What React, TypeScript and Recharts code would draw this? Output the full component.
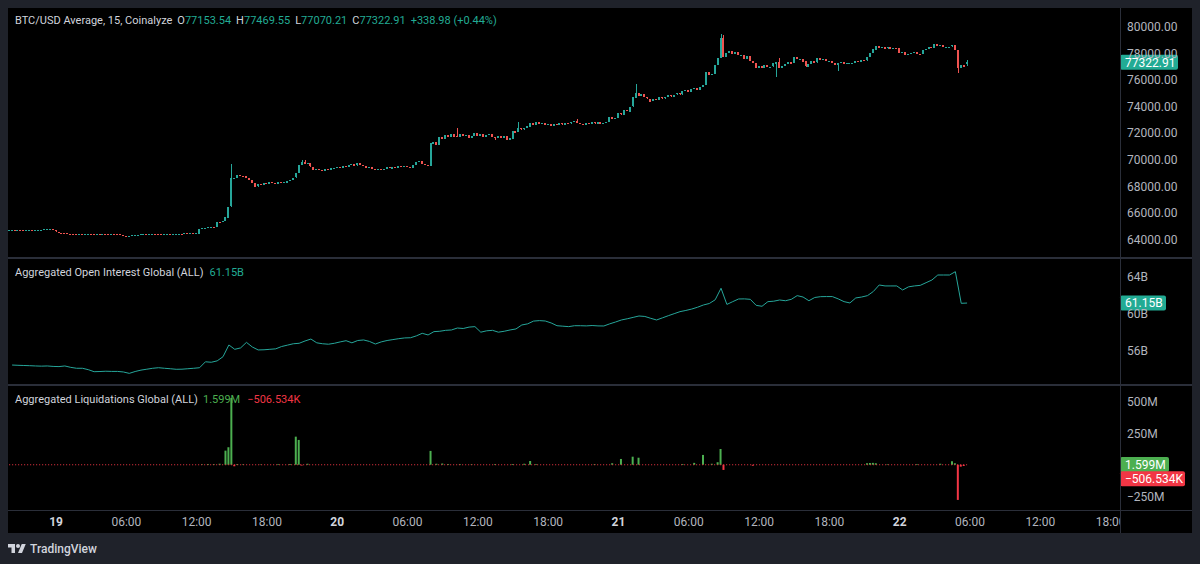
import React from "react";
import { ComposedChart, Bar, Line, XAxis, YAxis, ReferenceLine, Cell } from "recharts";

const FONT = "Roboto, 'Noto Sans', sans-serif";
const OUTER = "#1f222a";
const SEP = "#2a2e39";
const UP = "#26a69a";
const DOWN = "#ef5350";
const TEAL = "#22ab94";
const LIQ_UP = "#4caf50";
const LIQ_DOWN = "#f23645";
const AXIS_TEXT = "#b2b5be";

// 15m closes, 18th 20:00 -> 22nd 05:45 (one row = 4h = 16 candles)
const closes = [
  64690, 64700, 64680, 64710, 64700, 64690, 64700, 64720, 64710, 64730, 64740, 64750, 64760, 64790, 64810, 64700,
  64600, 64520, 64480, 64470, 64450, 64440, 64430, 64420, 64430, 64410, 64420, 64430, 64420, 64410, 64430, 64420,
  64420, 64410, 64400, 64420, 64410, 64380, 64350, 64300, 64200, 64260, 64330, 64360, 64370, 64380, 64390, 64380,
  64400, 64450, 64430, 64420, 64410, 64430, 64440, 64420, 64430, 64440, 64450, 64430, 64460, 64440, 64470, 64450,
  64460, 64800, 64880, 64900, 64920, 64950, 64930, 65340, 65300, 65400, 65670, 66470, 68600, 68650, 68850, 68800,
  68780, 68600, 68470, 68250, 67970, 68150, 68120, 68250, 68200, 68330, 68270, 68200, 68350, 68280, 68300, 68420,
  68470, 68650, 68980, 69600, 69800, 69650, 69720, 69470, 69220, 69330, 69250, 69180, 69300, 69230, 69350, 69400,
  69470, 69380, 69520, 69450, 69600, 69700, 69550, 69730, 69600, 69520, 69400, 69450, 69300, 69200, 69280, 69230,
  69300, 69420, 69350, 69480, 69400, 69520, 69450, 69560, 69470, 69400, 69600, 69800, 69900, 69700, 69600, 69520,
  71230, 71350, 71100, 71680, 71550, 71860, 71700, 71950, 71750, 71680, 71900, 71750, 71860, 71650, 71780, 72030,
  71800, 71950, 71730, 71850, 71930, 71700, 71600, 71780, 71650, 71800, 71480, 71600, 72180, 72050, 72360, 72250,
  72360, 72500, 72780, 72650, 72850, 72700, 72780, 72600, 72700, 72560, 72680, 72600, 72750, 72640, 72780, 72700,
  72800, 72900, 72760, 72700, 72620, 72760, 72680, 72800, 72700, 72820, 72700, 72780, 72860, 73230, 73050, 73150,
  73490, 73380, 73740, 73650, 73990, 74690, 75040, 74800, 74950, 74700, 74600, 74400, 74550, 74480, 74690, 74600,
  74700, 74850, 74750, 74900, 75000, 74900, 75150, 75240, 75100, 75300, 75370, 75250, 75450, 75620, 76620, 76380,
  76420, 77120, 77620, 79130, 77700, 78000, 78170, 77950, 78100, 77850, 77870, 77600, 77800, 77400, 77250, 76870,
  77050, 76870, 77100, 76950, 76990, 77250, 77380, 76900, 77050, 77200, 77370, 77250, 77700, 77550, 77600, 77400,
  76990, 77200, 77420, 77300, 77620, 77500, 77550, 77400, 77420, 77250, 77100, 77250, 77350, 77200, 77250, 77300,
  77300, 77420, 77350, 77500, 77450, 77700, 78000, 78300, 78570, 78400, 78500, 78350, 78450, 78300, 78400, 78370,
  78000, 78100, 77870, 77950, 78050, 78120, 77950, 77920, 78250, 78350, 78500, 78400, 78670, 78550, 78600, 78450,
  78450, 78500, 78600, 78250, 76870, 77100, 76983.93, 77322.91,
];
const lastOpen = 77153.54;

// visible wicks: [candle index, high, low] (0 = none)
const wicks = [
  [76, 69680, 0], [100, 69980, 0], [101, 69950, 0], [153, 72360, 0], [166, 0, 71450],
  [174, 72860, 0], [194, 73040, 0], [214, 75690, 0], [243, 79430, 0], [244, 79400, 0],
  [262, 0, 76240], [263, 77670, 0], [283, 0, 76670], [324, 0, 76500], [327, 77469.55, 77070.21],
];

// aggregated open interest, 30m samples (billions)
const oiValues = [
  54.45, 54.42, 54.4, 54.38, 54.35, 54.33, 54.35, 54.3, 54.28, 54.35, 54.2, 54.1,
  54.1, 53.95, 53.73, 53.75, 53.78, 53.76, 53.76, 53.7, 53.55, 53.75, 53.9, 54.0,
  54.1, 54.16, 54.1, 54.05, 53.99, 54.0, 54.05, 54.1, 54.16, 54.8, 54.75, 54.9,
  55.35, 56.62, 56.15, 56.3, 56.9, 56.4, 56.08, 56.1, 56.15, 56.2, 56.45, 56.6,
  56.75, 56.8, 57.05, 57.26, 56.85, 56.75, 56.7, 56.8, 56.95, 57.08, 56.85, 57.1,
  57.16, 57.0, 56.72, 56.95, 57.1, 57.2, 57.3, 57.38, 57.4, 57.6, 57.88, 57.7,
  58.06, 58.1, 58.2, 58.24, 58.45, 58.4, 58.55, 58.6, 58.0, 58.15, 58.2, 58.0,
  58.1, 58.24, 58.35, 58.78, 58.9, 59.2, 59.25, 59.21, 59.0, 58.7, 58.65, 58.6,
  58.7, 58.7, 58.68, 58.72, 58.68, 58.67, 58.9, 59.1, 59.32, 59.45, 59.6, 59.75,
  59.7, 59.5, 59.32, 59.55, 59.78, 60.0, 60.22, 60.35, 60.5, 60.7, 60.94, 61.1,
  61.5, 62.75, 61.0, 61.3, 61.59, 61.6, 61.55, 60.9, 60.8, 61.3, 61.35, 61.48,
  61.4, 61.55, 61.95, 61.8, 61.4, 61.75, 61.84, 61.85, 61.85, 61.6, 61.3, 61.16,
  61.7, 61.8, 61.95, 62.4, 63.1, 63.0, 63.0, 63.0, 62.56, 62.9, 63.0, 63.06,
  63.35, 63.64, 64.18, 64.18, 64.18, 64.54, 61.12, 61.15,
];

// liquidations per 15m candle: [candle index, $M] (longs +, shorts -)
const liqEvents = [
  [66, 4], [68, 6], [70, 5], [72, 8], [74, 112], [75, 139], [76, 530], [77, -12], [78, 6], [80, 4],
  [86, 3], [92, 5], [96, 6], [98, 223], [99, 197], [100, -6], [102, 8],
  [144, 110], [146, 8], [148, 10], [150, 6], [154, 5], [158, 4], [166, 5], [172, 6], [176, 8], [178, 30], [180, 5],
  [200, 5], [206, 12], [209, 46], [213, 64], [215, 56], [230, 6], [234, 15], [237, 78], [240, 8], [242, 20],
  [243, 125], [244, -41], [254, -8],
  [293, 12], [294, 14], [295, 15], [296, 12], [300, 4], [310, 5], [318, 8], [322, 28], [323, 12],
  [324, -279], [325, -15], [326, -10],
];

const priceTicks = [64000, 66000, 68000, 70000, 72000, 74000, 76000, 78000, 80000];
const oiTicks = [56, 60, 64];
const liqTicks = [-250, 250, 500];
const timeTicks = [16, 40, 64, 88, 112, 136, 160, 184, 208, 232, 256, 280, 304, 328, 352, 376];
const timeLabels = ["19", "06:00", "12:00", "18:00", "20", "06:00", "12:00", "18:00", "21", "06:00", "12:00", "18:00", "22", "06:00", "12:00", "18:00"];

const X_DOMAIN = [-0.4, 379.2];
const CHART_W = 1184;
const AXIS_W = 72;
const PLOT_W = CHART_W - AXIS_W;

const candles = closes.map((c, i) => {
  const o = i === closes.length - 1 ? lastOpen : i === 0 ? c : closes[i - 1];
  const w = wicks.find((e) => e[0] === i);
  const h = Math.max(o, c, w && w[1] ? w[1] : 0);
  const l = Math.min(o, c, w && w[2] ? w[2] : Infinity);
  return { i, o, c, h, l, range: [l, h] };
});

const oiData = oiValues.map((v, k) => ({ i: 2 * k + 1, oi: v }));

const liqData = closes.map((_, i) => {
  const e = liqEvents.find((x) => x[0] === i);
  return { i, v: e ? e[1] : 0 };
});

// candle body + wick, snapped to whole pixels so the thin bodies stay crisp
const Candle = (p: any) => {
  const { x, y, width, height, payload } = p;
  const { o, c, h, l } = payload;
  const color = c >= o ? UP : DOWN;
  const top = Math.min(y, y + height);
  const H = Math.abs(height);
  const k = h > l ? H / (h - l) : 0;
  const bodyTop = top + (h - Math.max(o, c)) * k;
  const bodyH = Math.max(1, Math.abs(c - o) * k);
  const bx = Math.round(x);
  const bw = Math.max(2, Math.round(width));
  const cx = bx + bw / 2;
  return (
    <g shapeRendering="crispEdges">
      <line x1={cx} x2={cx} y1={top} y2={top + Math.max(H, 1)} stroke={color} strokeWidth={1} />
      <rect x={bx} y={Math.round(bodyTop)} width={bw} height={Math.max(1, Math.round(bodyH))} fill={color} />
    </g>
  );
};

const tag = (text: string, bg: string, w: number, dy = 0) => (props: any) => {
  const vb = props.viewBox || {};
  const x = (vb.x || 0) + (vb.width || 0);
  const y = (vb.y || 0) + dy;
  return (
    <g>
      <rect x={x} y={y - 7.5} width={w} height={15} rx={2} fill={bg} />
      <text x={x + 5} y={y} dy="0.36em" fill="#ffffff" fontSize={12} fontFamily={FONT}>
        {text}
      </text>
    </g>
  );
};

const TimeTick = (p: any) => {
  const { x, y, payload } = p;
  const idx = timeTicks.indexOf(payload.value);
  const label = timeLabels[idx];
  const isDay = label.indexOf(":") < 0;
  const id = `tclip${idx}`;
  return (
    <g>
      <defs>
        <clipPath id={id}>
          <rect x={0} y={0} width={PLOT_W} height={200} />
        </clipPath>
      </defs>
      <text
        x={x}
        y={y}
        dy={16}
        textAnchor="middle"
        fill={isDay ? "#d1d4dc" : AXIS_TEXT}
        fontWeight={isDay ? 700 : 400}
        fontSize={12}
        fontFamily={FONT}
        clipPath={`url(#${id})`}
      >
        {label}
      </text>
    </g>
  );
};

const axisTick = { fill: AXIS_TEXT, fontSize: 12, fontFamily: FONT };
const noMargin = { top: 0, right: 0, bottom: 0, left: 0 };

const legendBase: React.CSSProperties = {
  position: "absolute",
  left: 15,
  fontSize: 11,
  lineHeight: "16px",
  color: "#d1d4dc",
  whiteSpace: "nowrap",
  fontFamily: FONT,
};

export default function App() {
  return (
    <div style={{ position: "absolute", left: 0, top: 0, width: 1200, height: 564, background: OUTER, fontFamily: FONT }}>
      <div style={{ position: "absolute", left: 8, top: 8, width: CHART_W, height: 525, background: "#000" }} />

      {/* price pane */}
      <div style={{ position: "absolute", left: 8, top: 8 }}>
        <ComposedChart width={CHART_W} height={249} data={candles} margin={noMargin}>
          <XAxis dataKey="i" type="number" domain={X_DOMAIN} allowDataOverflow hide />
          <YAxis
            orientation="right"
            width={AXIS_W}
            domain={[62684, 81406]}
            allowDataOverflow
            ticks={priceTicks}
            interval={0}
            tick={axisTick}
            tickSize={0}
            tickMargin={7}
            axisLine={false}
            tickLine={false}
            tickFormatter={(v: number) => v.toFixed(2)}
          />
          <Bar dataKey="range" shape={<Candle />} barSize={2} isAnimationActive={false} />
          <ReferenceLine y={77322.91} stroke="none" ifOverflow="visible" label={tag("77322.91", "#22ab94", 58)} />
        </ComposedChart>
      </div>
      <div style={{ ...legendBase, top: 13 }}>
        <span style={{ marginRight: 5 }}>BTC/USD Average, 15, Coinalyze</span>
        <span style={{ marginRight: 5 }}>O<span style={{ color: TEAL }}>77153.54</span></span>
        <span style={{ marginRight: 5 }}>H<span style={{ color: TEAL }}>77469.55</span></span>
        <span style={{ marginRight: 5 }}>L<span style={{ color: TEAL }}>77070.21</span></span>
        <span style={{ marginRight: 5 }}>C<span style={{ color: TEAL }}>77322.91</span></span>
        <span style={{ color: TEAL }}>+338.98 (+0.44%)</span>
      </div>
      <div style={{ position: "absolute", left: 8, top: 257, width: CHART_W, height: 2, background: SEP }} />

      {/* open interest pane */}
      <div style={{ position: "absolute", left: 8, top: 259 }}>
        <ComposedChart width={CHART_W} height={125} data={oiData} margin={noMargin}>
          <XAxis dataKey="i" type="number" domain={X_DOMAIN} allowDataOverflow hide />
          <YAxis
            orientation="right"
            width={AXIS_W}
            domain={[52.4, 65.91]}
            allowDataOverflow
            ticks={oiTicks}
            interval={0}
            tick={axisTick}
            tickSize={0}
            tickMargin={7}
            axisLine={false}
            tickLine={false}
            tickFormatter={(v: number) => `${v}B`}
          />
          <Line dataKey="oi" type="linear" stroke={UP} strokeWidth={1} dot={false} isAnimationActive={false} />
          <ReferenceLine y={61.15} stroke="none" ifOverflow="visible" label={tag("61.15B", "#22ab94", 46)} />
        </ComposedChart>
      </div>
      <div style={{ ...legendBase, top: 265 }}>
        <span style={{ marginRight: 6 }}>Aggregated Open Interest Global (ALL)</span>
        <span style={{ color: TEAL }}>61.15B</span>
      </div>
      <div style={{ position: "absolute", left: 8, top: 384, width: CHART_W, height: 2, background: SEP }} />

      {/* liquidations pane + time axis */}
      <div style={{ position: "absolute", left: 8, top: 386 }}>
        <ComposedChart width={CHART_W} height={147} data={liqData} margin={noMargin}>
          <XAxis
            dataKey="i"
            type="number"
            domain={X_DOMAIN}
            allowDataOverflow
            ticks={timeTicks}
            interval={0}
            height={23}
            tick={<TimeTick />}
            tickSize={0}
            tickMargin={0}
            axisLine={false}
            tickLine={false}
          />
          <YAxis
            orientation="right"
            width={AXIS_W}
            domain={[-359, 625]}
            allowDataOverflow
            ticks={liqTicks}
            interval={0}
            tick={axisTick}
            tickSize={0}
            tickMargin={7}
            axisLine={false}
            tickLine={false}
            tickFormatter={(v: number) => (v < 0 ? `\u2212${-v}M` : `${v}M`)}
          />
          <ReferenceLine
            segment={[{ x: 0, y: 0 }, { x: closes.length - 1, y: 0 }]}
            stroke={LIQ_DOWN}
            strokeWidth={1}
            strokeDasharray="1 2"
          />
          <Bar dataKey="v" barSize={2} isAnimationActive={false}>
            {liqData.map((d) => (
              <Cell key={d.i} fill={d.v >= 0 ? LIQ_UP : LIQ_DOWN} />
            ))}
          </Bar>
          <ReferenceLine y={1.599} stroke="none" ifOverflow="visible" label={tag("1.599M", LIQ_UP, 49)} />
          <ReferenceLine y={-0.506534} stroke="none" ifOverflow="visible" label={tag("\u2212506.534K", LIQ_DOWN, 65, 14)} />
        </ComposedChart>
      </div>
      <div style={{ ...legendBase, top: 392 }}>
        <span style={{ marginRight: 5 }}>Aggregated Liquidations Global (ALL)</span>
        <span style={{ marginRight: 7, color: LIQ_UP }}>1.599M</span>
        <span style={{ color: LIQ_DOWN }}>{"\u2212506.534K"}</span>
      </div>

      <div style={{ position: "absolute", left: 8, top: 510, width: CHART_W, height: 1, background: SEP }} />
      <div style={{ position: "absolute", left: 8 + PLOT_W, top: 8, width: 1, height: 525, background: SEP }} />

      {/* footer logo */}
      <div style={{ position: "absolute", left: 8, top: 542, display: "flex", alignItems: "center", color: "#d1d4dc", fontSize: 12, fontWeight: 500, fontFamily: FONT }}>
        <svg width={18} height={14} viewBox="0 0 36 28" style={{ marginRight: 4 }}>
          <path d="M14 22H7V11H0V4h14v18zM28 22h-8l7.5-18h8L28 22z" fill="#d1d4dc" />
          <circle cx={20} cy={8} r={4} fill="#d1d4dc" />
        </svg>
        <span>TradingView</span>
      </div>
    </div>
  );
}
